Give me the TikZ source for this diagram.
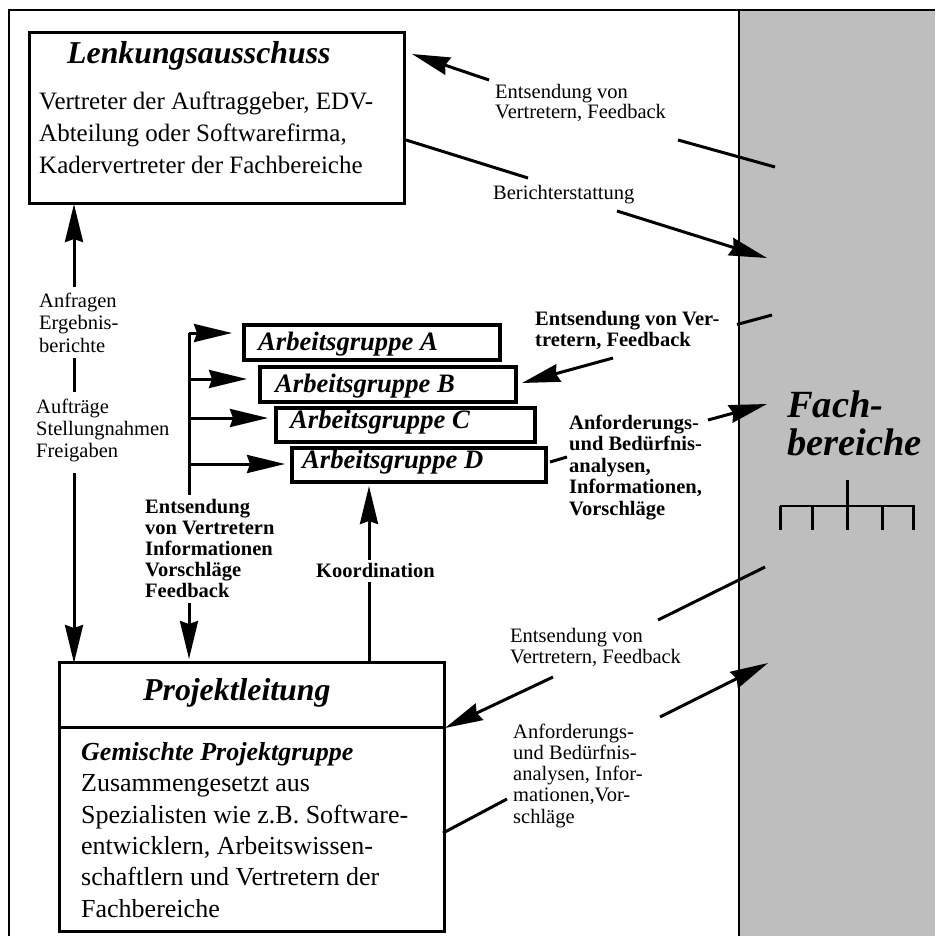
\documentclass[tikz,border=0pt]{standalone}
\usepackage{fontspec}
\setmainfont{Liberation Serif}
\usetikzlibrary{arrows.meta}
\definecolor{panel}{RGB}{190,190,190}
\newcommand\myfs[2]{\fontsize{#1}{#2}\selectfont}
\begin{document}
\begin{tikzpicture}[x=1pt,y=-1pt,
  conn/.style={line width=3pt},
  arr/.style={conn,-{Stealth[length=38pt,width=18pt,inset=3pt]}},
  box/.style={draw,line width=3pt,rectangle,inner sep=0pt},
  agbox/.style={draw,line width=4.5pt,rectangle,fill=white,inner sep=0pt,minimum height=35pt},
  lbl/.style={inner sep=0pt,anchor=base west,align=left,font=\myfs{20.5}{21}},
  blbl/.style={lbl,font=\myfs{20.5}{21}\bfseries},
  title/.style={inner sep=0pt,anchor=base west,font=\myfs{31.8}{32}\bfseries\itshape},
  agtext/.style={inner sep=0pt,anchor=base west,font=\myfs{26.6}{28}\bfseries\itshape},
  body/.style={inner sep=0pt,anchor=base west,align=left},
  frame/.style={line width=2.5pt}]
\useasboundingbox (0,0) rectangle (935,936);
% gray panel and frame
\fill[panel] (739,10) rectangle (935,936);
\draw[frame] (9,936) -- (9,10) -- (935,10);
\draw[frame] (739,10) -- (739,936);

% Lenkungsausschuss
\node[box,minimum width=375pt,minimum height=170pt] (lk) at (216.5,118) {};
\node[title] (lkt) at (67,64) {Lenkungsausschuss};
\node[body,font=\myfs{25}{32}] (lkb) at (39,174) {Vertreter der Auftraggeber, EDV-\\Abteilung oder Softwarefirma,\\Kadervertreter der Fachbereiche};

% Projektleitung
\node[box,minimum width=385pt,minimum height=269pt] (pl) at (251.5,796.5) {};
\draw[line width=3pt] (pl.west |- 0,727) -- (pl.east |- 0,727);
\node[title] (plt) at (143,700) {Projektleitung};
\node[body,font=\myfs{26}{31.3}] (plb) at (81,917) {\textbf{\textit{Gemischte Projektgruppe}}\\Zusammengesetzt aus\\Spezialisten wie z.B. Software-\\entwicklern, Arbeitswissen-\\schaftlern und Vertretern der\\Fachbereiche};

% Arbeitsgruppen
\node[agbox,minimum width=256pt] (agA) at (372,342.5) {};
\node[agtext] (agAt) at (258,350) {Arbeitsgruppe A};
\node[agbox,minimum width=256pt] (agB) at (388,384.5) {};
\node[agtext] (agBt) at (275,392) {Arbeitsgruppe B};
\node[agbox,minimum width=259pt,minimum height=34pt] (agC) at (405.5,425) {};
\node[agtext] (agCt) at (290,428) {Arbeitsgruppe C};
\node[agbox,minimum width=254pt,minimum height=34pt] (agD) at (419,465) {};
\node[agtext] (agDt) at (302,468) {Arbeitsgruppe D};

% Fachbereiche
\node[inner sep=0pt,anchor=base west,align=left,font=\myfs{38.5}{38}\bfseries\itshape] (fb) at (787,455) {Fach-\\bereiche};
\draw[line width=2.5pt] (780,506) -- (915,506);
\draw[line width=3pt] (847,480) -- (847,530);
\foreach \xx in {780,812,882,913} \draw[line width=3pt] (\xx,506) -- (\xx,530);

% coordinates
\coordinate (e1s) at (775,167); \coordinate (e1a) at (678,140);
\coordinate (e1b) at (489,80);  \coordinate (e1t) at (412,54);
\coordinate (b2s) at (406,140); \coordinate (b2a) at (528,178);
\coordinate (b2b) at (617,211); \coordinate (b2t) at (767,258);
\coordinate (e3s) at (772,315); \coordinate (e3a) at (737,324.5);
\coordinate (e3b) at (613,358); \coordinate (e3t) at (522,383);
\coordinate (a4s) at (550,462); \coordinate (a4a) at (567,457);
\coordinate (a4b) at (708,420); \coordinate (a4t) at (767,404);
\coordinate (e5s) at (765,567); \coordinate (e5a) at (658,620);
\coordinate (e5b) at (553,677); \coordinate (e5t) at (445,728);
\coordinate (a6s) at (443,833); \coordinate (a6a) at (507,799);
\coordinate (a6b) at (660,717); \coordinate (a6t) at (768,663);

% diagonal connectors
\draw[conn] (e1s) -- (e1a); \draw[arr] (e1b) -- (e1t);
\draw[conn] (b2s) -- (b2a); \draw[arr] (b2b) -- (b2t);
\draw[conn] (e3s) -- (e3a); \draw[arr] (e3b) -- (e3t);
\draw[conn] (a4s) -- (a4a); \draw[arr] (a4b) -- (a4t);
\draw[conn] (e5s) -- (e5a); \draw[arr] (e5b) -- (e5t);
\draw[conn] (a6s) -- (a6a); \draw[arr] (a6b) -- (a6t);

% left vertical connector
\coordinate (l1t) at (74,204); \coordinate (l1a) at (74,287);
\coordinate (l1b) at (74,358); \coordinate (l1c) at (74,392);
\coordinate (l1d) at (74,473); \coordinate (l1e) at (74,663);
\draw[arr] (l1a) -- (l1t);
\draw[conn] (l1b) -- (l1c);
\draw[arr] (l1d) -- (l1e);

% bracket
\coordinate (br0) at (189,333); \coordinate (br1) at (189,495);
\coordinate (br2) at (189,603); \coordinate (br3) at (189,659);
\draw[conn] (br0) -- (br1);
\draw[arr] (br2) -- (br3);
\coordinate (hA) at (232,333); \coordinate (hB) at (247,379);
\coordinate (hC) at (268,418); \coordinate (hD) at (285,464);
\draw[arr] (br0) -- (hA);
\draw[arr] (br0 |- hB) -- (hB);
\draw[arr] (br0 |- hC) -- (hC);
\draw[arr] (br0 |- hD) -- (hD);

% Koordination
\coordinate (ko0) at (369,661); \coordinate (ko1) at (369,582);
\coordinate (ko2) at (369,560); \coordinate (ko3) at (369,486);
\draw[conn] (ko0) -- (ko1);
\draw[arr] (ko2) -- (ko3);

% labels
\node[lbl,font=\myfs{20.5}{20}] (t1) at (495,119) {Entsendung von\\Vertretern, Feedback};
\node[lbl] (t2) at (493,200) {Berichterstattung};
\node[blbl] (t3) at (535,346) {Entsendung von Ver-\\tretern, Feedback};
\node[blbl,font=\myfs{20.5}{21.5}\bfseries] (t4) at (569,515) {Anforderungs-\\und Bedürfnis-\\analysen,\\Informationen,\\Vorschläge};
\node[lbl] (t5) at (510,663) {Entsendung von\\Vertretern, Feedback};
\node[lbl,font=\myfs{20.5}{21.25}] (t6) at (513,823) {Anforderungs-\\und Bedürfnis-\\analysen, Infor-\\mationen,Vor-\\schläge};
\node[lbl,font=\myfs{20.5}{22.5}] (t7) at (39,352) {Anfragen\\Ergebnis-\\berichte};
\node[lbl,font=\myfs{20.5}{22}] (t8) at (36,457) {Aufträge\\Stellungnahmen\\Freigaben};
\node[blbl] (t9) at (145,597) {Entsendung\\von Vertretern\\Informationen\\Vorschläge\\Feedback};
\node[blbl] (t10) at (316,577) {Koordination};
\end{tikzpicture}
\end{document}
